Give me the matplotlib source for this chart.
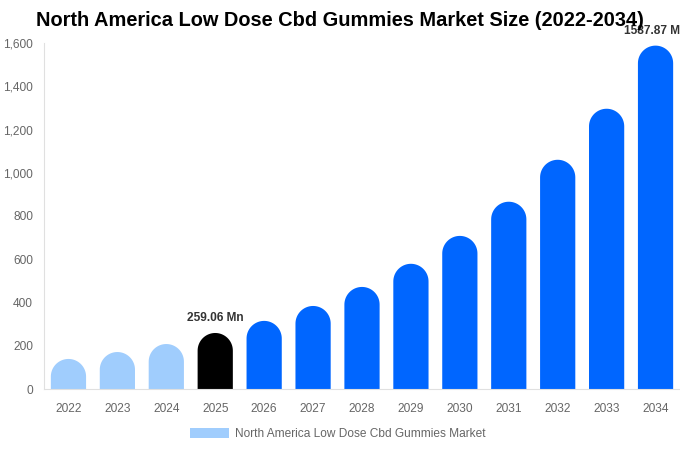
#!/usr/bin/env python3
"""North America Low Dose Cbd Gummies market size, 2022-2034, as rounded bars."""

import numpy as np
import matplotlib
matplotlib.use("Agg")
import matplotlib.pyplot as plt  # noqa: E402
from matplotlib.patches import Polygon, Patch  # noqa: E402
from matplotlib.ticker import FuncFormatter  # noqa: E402

plt.rcParams["font.family"] = ["Liberation Sans", "DejaVu Sans"]

years = ["2022", "2023", "2024", "2025", "2026", "2027", "2028",
         "2029", "2030", "2031", "2032", "2033", "2034"]
values = [139, 171, 208, 259.06, 315, 384, 472, 579, 708, 866, 1060, 1296, 1587.87]
# history / base year / forecast
kinds = ["hist", "hist", "hist", "base", "fc", "fc", "fc",
         "fc", "fc", "fc", "fc", "fc", "fc"]
labels = {3: "259.06 Mn", 12: "1587.87 Mn"}
series_name = "North America Low Dose Cbd Gummies Market"

colors = {"hist": "#a0cdfd", "base": "#000000", "fc": "#0066ff"}

W, H = 680, 450
fig = plt.figure(figsize=(W / 100, H / 100), dpi=100)
ax = fig.add_axes([44 / W, 61 / H, 636 / W, 346 / H])
ax.set_xlim(-0.5, len(years) - 0.5)
ax.set_ylim(0, 1600)

bw = 0.72
# px per data unit, to make the top a true half circle
px_x = 636 / len(years)
px_y = 346 / 1600
rx = bw / 2
ry = rx * px_x / px_y
t = np.linspace(0, np.pi, 40)
for i, (v, k) in enumerate(zip(values, kinds)):
    top = max(v - ry, 0)
    arc = np.column_stack([i + rx * np.cos(t), top + ry * np.sin(t)])
    pts = np.vstack([[i + rx, 0], arc, [i - rx, 0]])
    ax.add_patch(Polygon(pts, closed=True, facecolor=colors[k], edgecolor="none"))

for i, txt in labels.items():
    ax.annotate(txt, (i, values[i]), xytext=(0, 6.5), textcoords="offset points",
                ha="center", va="bottom", fontsize=8.6, fontweight="bold",
                color="#333333", annotation_clip=False)

ax.set_xticks(range(len(years)))
ax.set_xticklabels(years)
ax.set_yticks(range(0, 1601, 200))
ax.yaxis.set_major_formatter(FuncFormatter(lambda y, _: f"{int(y):,}"))
ax.tick_params(length=0, labelsize=8.6, colors="#666666")
ax.tick_params(axis="x", pad=10)
ax.tick_params(axis="y", pad=8)
for s in ("top", "right"):
    ax.spines[s].set_visible(False)
for s in ("left", "bottom"):
    ax.spines[s].set_color("#e0e0e0")

fig.text(340 / W, 1 - 21 / H, "North America Low Dose Cbd Gummies Market Size (2022-2034)",
         ha="center", va="center", fontsize=14.4, fontweight="bold", color="#000000")

fig.legend(handles=[Patch(facecolor=colors["hist"], label=series_name)],
           loc="center", bbox_to_anchor=(338 / W, 1 - 434 / H), frameon=False,
           fontsize=8.6, labelcolor="#666666", handlelength=3.3, handleheight=1.0,
           handletextpad=0.5)

fig.savefig("out.png", dpi=100)
